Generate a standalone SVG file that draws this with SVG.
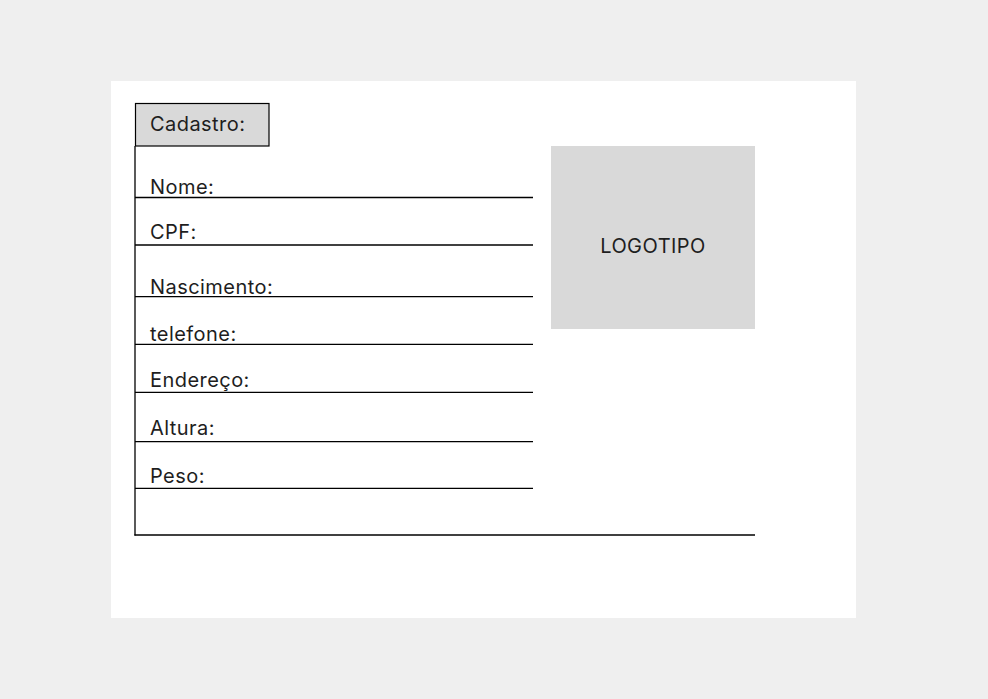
<svg xmlns="http://www.w3.org/2000/svg" width="988" height="699" viewBox="0 0 988 699">
<style>
.lbl{font-family:Inter,"Liberation Sans",sans-serif;font-size:20px;letter-spacing:0.45px;fill:#1e1e1e}
.ln{stroke:#000;stroke-width:1.3;fill:none}
</style>
<rect x="0" y="0" width="988" height="699" fill="#efefef"/>
<rect x="111" y="81" width="745" height="537" fill="#ffffff"/>
<g id="logo">
<rect x="551" y="146" width="204" height="183" fill="#d9d9d9"/>
<text class="lbl" x="653" y="252.5" text-anchor="middle">LOGOTIPO</text>
</g>
<g id="form-lines">
<line class="ln" x1="135" y1="146" x2="135" y2="535.6"/>
<line class="ln" x1="135" y1="197.5" x2="533" y2="197.5"/>
<line class="ln" x1="135" y1="245" x2="533" y2="245"/>
<line class="ln" x1="135" y1="296.7" x2="533" y2="296.7"/>
<line class="ln" x1="135" y1="344.4" x2="533" y2="344.4"/>
<line class="ln" x1="135" y1="392.3" x2="533" y2="392.3"/>
<line class="ln" x1="135" y1="441.7" x2="533" y2="441.7"/>
<line class="ln" x1="135" y1="488.4" x2="533" y2="488.4"/>
<line class="ln" x1="134.4" y1="535" x2="755" y2="535"/>
</g>
<g id="cadastro">
<rect x="135.5" y="103.5" width="133.5" height="42.5" fill="#d9d9d9" stroke="#000" stroke-width="1.2"/>
<text class="lbl" x="150" y="131">Cadastro:</text>
</g>
<g id="labels">
<text class="lbl" x="150" y="193.5">Nome:</text>
<text class="lbl" x="150" y="238.5">CPF:</text>
<text class="lbl" x="150" y="294">Nascimento:</text>
<text class="lbl" x="150" y="340.7">telefone:</text>
<text class="lbl" x="150" y="387.3">Endereço:</text>
<text class="lbl" x="150" y="435">Altura:</text>
<text class="lbl" x="150" y="482.7">Peso:</text>
</g>
</svg>
